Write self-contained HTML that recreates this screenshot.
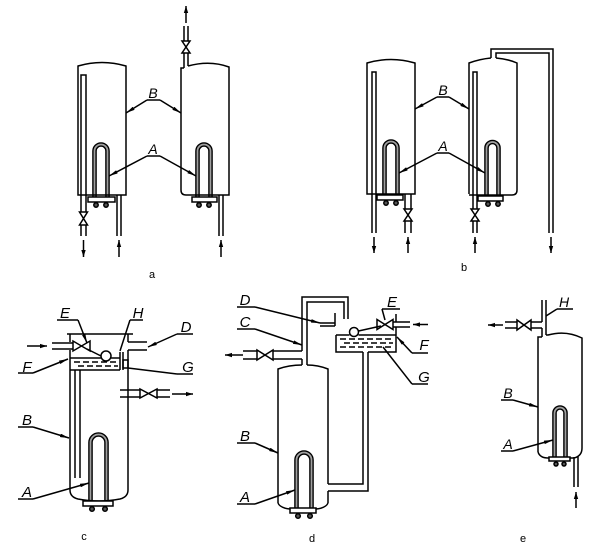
<!DOCTYPE html>
<html><head><meta charset="utf-8"><style>
html,body{margin:0;padding:0;background:#fff;}
svg{display:block;}
text{font-family:"Liberation Sans",sans-serif;fill:#000;}
.l{font-style:italic;font-size:14px;}
.lb{font-style:italic;font-size:15px;}
.cap{font-size:11px;}
</style></head><body>
<svg width="612" height="556" viewBox="0 0 612 556" xmlns="http://www.w3.org/2000/svg">
<defs>
<marker id="m" viewBox="0 0 10 4" refX="10" refY="2" markerWidth="9" markerHeight="3.6" markerUnits="userSpaceOnUse" orient="auto"><path d="M0,0 L10,2 L0,4 Z" fill="#000"/></marker>
<marker id="f" viewBox="0 0 8 5" refX="8" refY="2.5" markerWidth="7" markerHeight="5" markerUnits="userSpaceOnUse" orient="auto"><path d="M0,0 L8,2.5 L0,5 Z" fill="#000"/></marker>
</defs>
<rect width="612" height="556" fill="#fff"/>

<!-- heater U-tubes (double outline with grey core) -->
<g fill="none" stroke="#000" stroke-width="4.6">
<path d="M94.5,198 L94.5,151 A6.5,6.5 0 0 1 107.5,151 L107.5,198"/>
<path d="M197.5,198 L197.5,151 A6.5,6.5 0 0 1 210.5,151 L210.5,198"/>
<path d="M384.5,196 L384.5,148 A6.5,6.5 0 0 1 397.5,148 L397.5,196"/>
<path d="M486.5,197 L486.5,148 A6,6 0 0 1 498.5,148 L498.5,197"/>
<path d="M90.5,502 L90.5,442.5 A8,8 0 0 1 106.5,442.5 L106.5,502"/>
<path d="M296.5,509 L296.5,460 A7.5,7.5 0 0 1 311.5,460 L311.5,509"/>
<path d="M554.5,458 L554.5,413 A5.5,5.5 0 0 1 565.5,413 L565.5,458"/>
</g>
<g fill="none" stroke="#a0a0a0" stroke-width="1.8">
<path d="M94.5,198 L94.5,151 A6.5,6.5 0 0 1 107.5,151 L107.5,198"/>
<path d="M197.5,198 L197.5,151 A6.5,6.5 0 0 1 210.5,151 L210.5,198"/>
<path d="M384.5,196 L384.5,148 A6.5,6.5 0 0 1 397.5,148 L397.5,196"/>
<path d="M486.5,197 L486.5,148 A6,6 0 0 1 498.5,148 L498.5,197"/>
<path d="M90.5,502 L90.5,442.5 A8,8 0 0 1 106.5,442.5 L106.5,502"/>
<path d="M296.5,509 L296.5,460 A7.5,7.5 0 0 1 311.5,460 L311.5,509"/>
<path d="M554.5,458 L554.5,413 A5.5,5.5 0 0 1 565.5,413 L565.5,458"/>
</g>

<g fill="none" stroke="#000" stroke-width="1.5">

<!-- ===== Panel a ===== -->
<path d="M78,195 L78,66 Q102,59 126,66 L126,195 Z"/>
<path d="M81,212 L81,75 L86,75 L86,212 M81,225 L81,236 M86,225 L86,236"/>
<path d="M79.5,212 L87.5,212 L79.5,225 L87.5,225 Z" fill="#fff"/>
<line x1="83.5" y1="240" x2="83.5" y2="257" marker-end="url(#f)"/>
<path d="M117,195 L117,236 M121,195 L121,236"/>
<line x1="119" y1="257" x2="119" y2="240" marker-end="url(#f)"/>
<rect x="88" y="197" width="27" height="5" fill="#fff"/>
<circle cx="96" cy="205" r="2.2" fill="#555"/><circle cx="106" cy="205" r="2.2" fill="#555"/>

<path d="M181,190 L181,68 L184,68 M188,66 Q210,60 229,67 L229,195 L186,195 Q181,195 181,190"/>
<path d="M184,68 L184,53 M188,66 L188,53 M184,41 L184,26 M188,41 L188,26"/>
<path d="M182,41 L190,41 L182,53 L190,53 Z" fill="#fff"/>
<line x1="186" y1="23" x2="186" y2="6" marker-end="url(#f)"/>
<path d="M219,195 L219,236 M223,195 L223,236"/>
<line x1="221" y1="257" x2="221" y2="240" marker-end="url(#f)"/>
<rect x="192" y="197" width="25" height="5" fill="#fff"/>
<circle cx="199" cy="205" r="2.2" fill="#555"/><circle cx="209" cy="205" r="2.2" fill="#555"/>

<path d="M147,100 L160,100 M147,156 L160,156"/>
<line x1="147" y1="100" x2="126" y2="113" marker-end="url(#m)"/>
<line x1="160" y1="100" x2="181" y2="113" marker-end="url(#m)"/>
<line x1="147" y1="156" x2="109" y2="176" marker-end="url(#m)"/>
<line x1="160" y1="156" x2="196" y2="176" marker-end="url(#m)"/>

<!-- ===== Panel b ===== -->
<path d="M367,194 L367,63 Q391,56 415,63 L415,194 Z"/>
<path d="M372,233 L372,72 L376,72 L376,233"/>
<line x1="374" y1="237" x2="374" y2="253" marker-end="url(#f)"/>
<rect x="377" y="195" width="26" height="5" fill="#fff"/>
<circle cx="386" cy="203" r="2.2" fill="#555"/><circle cx="396" cy="203" r="2.2" fill="#555"/>
<path d="M405,194 L405,209 M411,194 L411,209 M405,221 L405,233 M411,221 L411,233"/>
<path d="M404,209 L412,209 L404,221 L412,221 Z" fill="#fff"/>
<line x1="408" y1="253" x2="408" y2="237" marker-end="url(#f)"/>

<path d="M469,194 L469,63 Q480,59 491,58 M496,58 Q508,59 517,63 L517,190 Q517,195 512,195 L469,195"/>
<path d="M491,58 L491,49 L553,49 L553,233 M496,58 L496,53 L549,53 L549,233"/>
<line x1="551" y1="237" x2="551" y2="253" marker-end="url(#f)"/>
<path d="M473,209 L473,72 L477,72 L477,209 M473,221 L473,233 M477,221 L477,233"/>
<path d="M471,209 L479,209 L471,221 L479,221 Z" fill="#fff"/>
<line x1="475" y1="253" x2="475" y2="237" marker-end="url(#f)"/>
<rect x="478" y="196" width="25" height="5" fill="#fff"/>
<circle cx="488" cy="204" r="2.2" fill="#555"/><circle cx="498" cy="204" r="2.2" fill="#555"/>

<path d="M437,97 L449,97 M437,153 L449,153"/>
<line x1="437" y1="97" x2="415" y2="109" marker-end="url(#m)"/>
<line x1="449" y1="97" x2="469" y2="109" marker-end="url(#m)"/>
<line x1="437" y1="153" x2="399" y2="173" marker-end="url(#m)"/>
<line x1="449" y1="153" x2="485" y2="173" marker-end="url(#m)"/>

<!-- ===== Panel c ===== -->
<path d="M67,334 L133,334"/>
<path d="M70,334 L70,342 M70,350 L70,490 M128,334 L128,342 M128,350 L128,490"/>
<path d="M70,490 Q70,497 78,499 Q99,503 120,499 Q128,497 128,490"/>
<path d="M52,343 L73,343 M52,349 L73,349"/>
<path d="M73,341 L73,351 L90,341 L90,351 Z" fill="#fff"/>
<line x1="27" y1="346" x2="47" y2="346" marker-end="url(#f)"/>
<path d="M87,349 L101,356"/>
<circle cx="106" cy="356" r="5" fill="#fff"/>
<path d="M70,358 L101,358 M111,358 L120,358 M70,370 L120,370"/>
<path d="M74,362 L118,362 M78,366 L118,366" stroke-dasharray="6 3"/>
<path d="M120,352 L120,370 M123,352 L123,370"/>
<rect x="123" y="360" width="5" height="8"/>
<path d="M75,370 L75,478 M80,370 L80,478"/>
<path d="M128,342 L147,342 M128,350 L147,350"/>
<path d="M120,390 L140,390 M120,397 L140,397 M157,390 L170,390 M157,397 L170,397"/>
<path d="M140,389 L140,398 L157,389 L157,398 Z" fill="#fff"/>
<line x1="172" y1="394" x2="193" y2="394" marker-end="url(#f)"/>
<rect x="83" y="501" width="30" height="5" fill="#fff"/>
<circle cx="92" cy="509" r="2.3" fill="#555"/><circle cx="105" cy="509" r="2.3" fill="#555"/>

<path d="M57,320 L78,320 M130,320 L143,320 M177,334 L193,334 M18,373 L33,373 M177,374 L193,374 M18,427 L33,427 M18,499 L33,499"/>
<line x1="78" y1="320" x2="87" y2="343" marker-end="url(#m)"/>
<line x1="130" y1="320" x2="120" y2="351"/>
<line x1="177" y1="334" x2="148" y2="347" marker-end="url(#m)"/>
<line x1="33" y1="373" x2="68" y2="359" marker-end="url(#m)"/>
<line x1="177" y1="374" x2="128" y2="368"/>
<line x1="33" y1="427" x2="69" y2="438" marker-end="url(#m)"/>
<line x1="33" y1="499" x2="89" y2="483" marker-end="url(#m)"/>

<!-- ===== Panel d ===== -->
<path d="M278,503 L278,369 Q289,365 302,365 M307,365 Q318,365 328,369 L328,484 M328,491 L328,503"/>
<path d="M278,503 Q280,508 290,509 L316,509 Q326,508 328,503"/>
<path d="M302,365 L302,359 M302,351 L302,297 L348,297 L348,319 M307,365 L307,302 L344,302 L344,319"/>
<path d="M243,351 L257,351 M243,359 L257,359 M273,351 L302,351 M273,359 L302,359"/>
<path d="M257,350 L257,360 L273,350 L273,360 Z" fill="#fff"/>
<line x1="243" y1="355" x2="225" y2="355" marker-end="url(#f)"/>
<path d="M320,323 L335,323 M320,326 L335,326 M335,313 L335,326"/>
<path d="M336,335 L336,352 L363,352 M368,352 L396,352 L396,327 M396,322 L396,314"/>
<path d="M336,335 L349.5,335 M358.5,335 L396,335"/>
<path d="M393,322 L410,322 M393,327 L410,327"/>
<path d="M377,319.5 L377,329.5 L393,319.5 L393,329.5 Z" fill="#fff"/>
<line x1="428" y1="324.5" x2="413" y2="324.5" marker-end="url(#f)"/>
<path d="M358.5,331 L381,326"/>
<circle cx="354" cy="332" r="4.5" fill="#fff"/>
<path d="M340,339 L393,339 M344,343 L393,343 M340,347 L393,347" stroke-dasharray="6 3"/>
<path d="M363,352 L363,484 L328,484 M368,352 L368,491 L328,491"/>
<rect x="290" y="508" width="26" height="5" fill="#fff"/>
<circle cx="298" cy="516" r="2.3" fill="#555"/><circle cx="310" cy="516" r="2.3" fill="#555"/>

<path d="M237,307 L255,307 M237,329 L255,329 M382,309 L400,309 M412,353 L428,353 M412,384 L428,384 M237,443 L255,443 M237,504 L255,504"/>
<line x1="255" y1="307" x2="320" y2="323" marker-end="url(#m)"/>
<line x1="255" y1="329" x2="302" y2="345" marker-end="url(#m)"/>
<line x1="382" y1="309" x2="385" y2="320"/>
<line x1="412" y1="353" x2="397" y2="337" marker-end="url(#m)"/>
<line x1="412" y1="384" x2="383" y2="347"/>
<line x1="255" y1="443" x2="278" y2="453" marker-end="url(#m)"/>
<line x1="255" y1="504" x2="295" y2="490" marker-end="url(#m)"/>

<!-- ===== Panel e ===== -->
<path d="M538,452 L538,337 L542,337 M546,335 L548,335 Q566,330 582,338 L582,448"/>
<path d="M538,452 Q540,458 548,458 L574,458 Q582,456 582,448"/>
<path d="M542,337 L542,328 M542,322 L542,300 M546,335 L546,300"/>
<path d="M505,322 L517,322 M505,328 L517,328 M531,322 L542,322 M531,328 L542,328"/>
<path d="M517,320 L517,330 L531,320 L531,330 Z" fill="#fff"/>
<line x1="503" y1="325" x2="488" y2="325" marker-end="url(#f)"/>
<path d="M574,457 L574,487 M578,456 L578,487"/>
<line x1="576" y1="508" x2="576" y2="492" marker-end="url(#f)"/>
<rect x="549" y="457" width="21" height="4" fill="#fff"/>
<circle cx="556" cy="464" r="2" fill="#555"/><circle cx="564" cy="464" r="2" fill="#555"/>

<path d="M557,309 L573,309 M501,400 L513,400 M501,451 L513,451"/>
<line x1="557" y1="309" x2="546" y2="316"/>
<line x1="513" y1="400" x2="538" y2="407" marker-end="url(#m)"/>
<line x1="513" y1="451" x2="553" y2="440" marker-end="url(#m)"/>
</g>

<!-- labels -->
<text class="l" x="153" y="98" text-anchor="middle">B</text>
<text class="l" x="153" y="154" text-anchor="middle">A</text>
<text class="cap" x="152" y="278" text-anchor="middle">a</text>

<text class="l" x="443" y="95" text-anchor="middle">B</text>
<text class="l" x="443" y="151" text-anchor="middle">A</text>
<text class="cap" x="464" y="271" text-anchor="middle">b</text>

<text class="lb" x="65" y="318" text-anchor="middle">E</text>
<text class="lb" x="138" y="318" text-anchor="middle">H</text>
<text class="lb" x="186" y="332" text-anchor="middle">D</text>
<text class="lb" x="27" y="372" text-anchor="middle">F</text>
<text class="lb" x="188" y="372" text-anchor="middle">G</text>
<text class="lb" x="27" y="425" text-anchor="middle">B</text>
<text class="lb" x="27" y="497" text-anchor="middle">A</text>
<text class="cap" x="84" y="540" text-anchor="middle">c</text>

<text class="lb" x="245" y="305" text-anchor="middle">D</text>
<text class="lb" x="245" y="327" text-anchor="middle">C</text>
<text class="lb" x="392" y="307" text-anchor="middle">E</text>
<text class="lb" x="424" y="350" text-anchor="middle">F</text>
<text class="lb" x="424" y="382" text-anchor="middle">G</text>
<text class="lb" x="245" y="441" text-anchor="middle">B</text>
<text class="lb" x="245" y="502" text-anchor="middle">A</text>
<text class="cap" x="312" y="542" text-anchor="middle">d</text>

<text class="l" x="564" y="307" text-anchor="middle">H</text>
<text class="l" x="508" y="398" text-anchor="middle">B</text>
<text class="l" x="508" y="449" text-anchor="middle">A</text>
<text class="cap" x="523" y="542" text-anchor="middle">e</text>
</svg>
</body></html>
